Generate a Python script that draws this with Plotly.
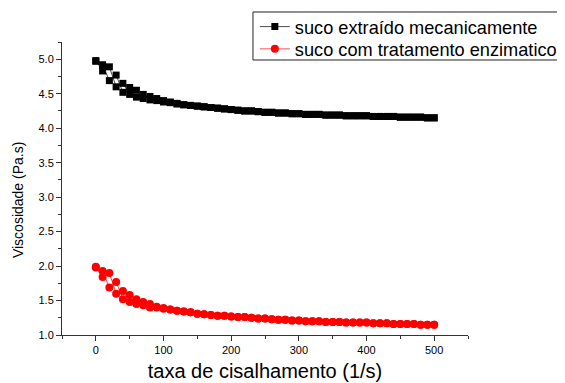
import plotly.graph_objects as go

shear_rate = [0, 10, 20, 30, 40, 50, 60, 70, 80, 90,
              100, 110, 120, 130, 140, 150, 160, 170, 180, 190,
              200, 210, 220, 230, 240, 250, 260, 270, 280, 290,
              300, 310, 320, 330, 340, 350, 360, 370, 380, 390,
              400, 410, 420, 430, 440, 450, 460, 470, 480, 490, 500]

# suco extraido mecanicamente: ascending sweep and descending sweep
mec_up = [4.97, 4.92, 4.69, 4.77, 4.52, 4.59, 4.45, 4.49, 4.41, 4.43,
          4.38, 4.38, 4.35, 4.34, 4.33, 4.32, 4.31, 4.30, 4.29, 4.28,
          4.27, 4.26, 4.25, 4.25, 4.24, 4.23, 4.23, 4.22, 4.22, 4.21,
          4.21, 4.20, 4.20, 4.20, 4.19, 4.19, 4.19, 4.18, 4.18, 4.18,
          4.18, 4.17, 4.17, 4.17, 4.17, 4.16, 4.16, 4.16, 4.16, 4.15, 4.15]
mec_down = [4.98, 4.83, 4.89, 4.60, 4.65, 4.49, 4.55, 4.43, 4.46, 4.40,
            4.40, 4.37, 4.36, 4.34, 4.33, 4.32, 4.31, 4.30, 4.29, 4.28,
            4.27, 4.26, 4.25, 4.25, 4.24, 4.23, 4.23, 4.22, 4.22, 4.21,
            4.21, 4.20, 4.20, 4.20, 4.19, 4.19, 4.19, 4.18, 4.18, 4.18,
            4.18, 4.17, 4.17, 4.17, 4.17, 4.16, 4.16, 4.16, 4.16, 4.15, 4.15]

# suco com tratamento enzimatico
enz_up = [1.99, 1.93, 1.69, 1.77, 1.52, 1.58, 1.45, 1.48, 1.40, 1.41,
          1.38, 1.37, 1.35, 1.34, 1.33, 1.31, 1.30, 1.29, 1.28, 1.28,
          1.27, 1.26, 1.26, 1.25, 1.24, 1.24, 1.23, 1.22, 1.22, 1.21,
          1.21, 1.20, 1.20, 1.20, 1.19, 1.19, 1.19, 1.18, 1.18, 1.18,
          1.18, 1.17, 1.17, 1.17, 1.16, 1.16, 1.16, 1.16, 1.15, 1.15, 1.15]
enz_down = [1.98, 1.84, 1.90, 1.60, 1.64, 1.48, 1.52, 1.43, 1.45, 1.40,
            1.39, 1.37, 1.35, 1.34, 1.33, 1.31, 1.30, 1.29, 1.28, 1.28,
            1.27, 1.26, 1.26, 1.25, 1.24, 1.24, 1.23, 1.22, 1.22, 1.21,
            1.21, 1.20, 1.20, 1.20, 1.19, 1.19, 1.19, 1.18, 1.18, 1.18,
            1.18, 1.17, 1.17, 1.17, 1.16, 1.16, 1.16, 1.16, 1.15, 1.15, 1.15]

series_names = ["suco extraído mecanicamente", "suco com tratamento enzimatico"]
x_title = "taxa de cisalhamento (1/s)"
y_title = "Viscosidade (Pa.s)"

x_loop = shear_rate + shear_rate[::-1]

fig = go.Figure()
fig.add_trace(go.Scatter(
    x=x_loop, y=mec_up + mec_down[::-1], mode="lines+markers",
    name=series_names[0], legend="legend",
    line=dict(color="black", width=0.7),
    marker=dict(symbol="square", size=7, color="black"),
))
fig.add_trace(go.Scatter(
    x=x_loop, y=enz_up + enz_down[::-1], mode="lines+markers",
    name=series_names[1], legend="legend2",
    line=dict(color="red", width=0.7),
    marker=dict(symbol="circle", size=8, color="red"),
))

font = "Liberation Sans, Arial, sans-serif"
leg_common = dict(
    xanchor="left", yanchor="middle", xref="paper", yref="paper",
    borderwidth=0, bgcolor="rgba(0,0,0,0)",
    font=dict(family=font, size=18.2, color="black"),
    itemsizing="trace",
)

# legend frame
fig.add_shape(type="rect", xref="paper", yref="paper",
              x0=0.4704, x1=1.4, y0=0.9386, y1=1.1024,
              line=dict(color="#222", width=1), fillcolor="rgba(0,0,0,0)")

# y-axis title (placed slightly below the axis centre, as in the original)
fig.add_annotation(text=y_title, xref="paper", yref="paper",
                   x=-0.108, y=0.461, xanchor="center", yanchor="middle",
                   textangle=-90, showarrow=False,
                   font=dict(family=font, size=14, color="black"))

fig.update_layout(
    width=557, height=375,
    margin=dict(l=54, r=97, t=34, b=48, autoexpand=False),
    paper_bgcolor="white", plot_bgcolor="white",
    font=dict(family=font, color="black", size=11),
    showlegend=True,
    legend=dict(x=0.475, y=1.052, **leg_common),
    legend2=dict(x=0.475, y=0.976, **leg_common),
    xaxis=dict(
        range=[-50, 550], tickvals=[0, 100, 200, 300, 400, 500],
        showgrid=False, zeroline=False, showline=True, linecolor="#333", linewidth=1,
        ticks="outside", ticklen=5, tickcolor="#333",
        minor=dict(ticks="outside", ticklen=3, dtick=50, tick0=0, tickcolor="#333"),
        title=dict(text=x_title, font=dict(size=20), standoff=8),
        tickfont=dict(size=11),
    ),
    yaxis=dict(
        range=[1.0, 5.25], dtick=0.5, tick0=1.0, tickformat=".1f",
        showgrid=False, zeroline=False, showline=True, linecolor="#333", linewidth=1,
        ticks="outside", ticklen=5, tickcolor="#333",
        minor=dict(ticks="outside", ticklen=3, dtick=0.25, tick0=1.0, tickcolor="#333"),
        tickfont=dict(size=11),
    ),
)

fig.write_html("out.html")
